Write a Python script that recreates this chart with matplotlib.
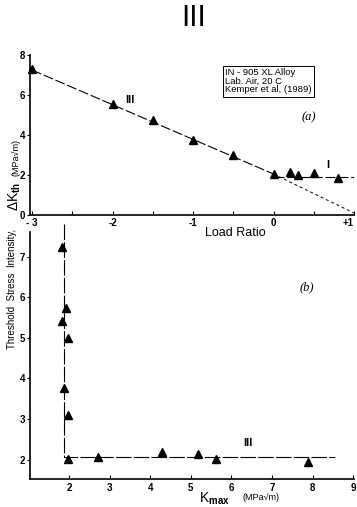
import matplotlib
matplotlib.use("Agg")
import matplotlib.pyplot as plt
from matplotlib.lines import Line2D

plt.rcParams['font.family'] = ['Liberation Sans', 'DejaVu Sans']
plt.rcParams['mathtext.fontset'] = 'custom'
plt.rcParams['mathtext.rm'] = 'Liberation Sans'
plt.rcParams['mathtext.bf'] = 'Liberation Sans:bold'

# (a) threshold vs load ratio
r_vals = [-3.0, -2.0, -1.5, -1.0, -0.5, 0.0, 0.2, 0.3, 0.5, 0.8]
dk_vals = [7.3, 5.53, 4.75, 3.75, 3.0, 2.05, 2.13, 2.0, 2.08, 1.85]
trend_r = [-3.0, 0.0]
trend_dk = [7.25, 2.05]
flat_r = [0.0, 1.0]
flat_dk = [1.92, 1.92]
lefm_r = [0.0, 1.0]
lefm_dk = [2.05, 0.1]
r_ticks = [-3, -2, -1, 0, 1]
r_ticklabels = ['- 3', '-2', '-1', '0', '+1']
r_minor = [-2.5, -1.5, -0.5, 0.5]

# (b) threshold vs Kmax
kmax_vals = [1.83, 1.93, 1.83, 1.98, 1.88, 1.98, 1.98, 2.71, 4.28, 5.18, 5.62, 7.88]
kth_vals = [7.23, 5.74, 5.42, 4.99, 3.76, 3.09, 2.02, 2.07, 2.2, 2.14, 2.02, 1.95]
corner_k = [1.88, 1.88, 8.55]
corner_dk = [7.8, 2.06, 2.06]

fig = plt.figure(figsize=(3.57, 5.07), dpi=100)
W, H = 357, 507


def px(x, y):
    return x / W, 1 - y / H


dash = (0, (9, 2.5))

# ---- bottom panel (drawn first so the top panel's labels sit above it) ----
ax2 = fig.add_axes([0.084, 0.0546, 0.9076, 0.5036])
ax2.patch.set_alpha(0)
ax2.plot(corner_k, corner_dk, color='black', lw=0.8, linestyle=(0, (14, 2)))
ax2.plot(kmax_vals, kth_vals, linestyle='none', marker='^', color='black', ms=5.5)
ax2.set_xlim(1.04, 9.02)
ax2.set_ylim(1.52, 7.8)
ax2.set_xticks(range(2, 10))
ax2.set_yticks(range(2, 8))
ax2.tick_params(axis='x', direction='in', length=3, width=0.8, pad=3)
ax2.tick_params(axis='y', direction='out', length=2.5, width=0.8, pad=1)
for lab in ax2.get_xticklabels() + ax2.get_yticklabels():
    lab.set_fontsize(7)
    lab.set_fontweight('bold')
for s in ['top', 'right']:
    ax2.spines[s].set_visible(False)
for s in ['left', 'bottom']:
    ax2.spines[s].set_linewidth(1.2)
ax2.spines['left'].set_bounds(1.52, 7.6)
ax2.text(6.41, 2.42, 'III', fontsize=8, fontweight='bold', ha='center', va='center')

# ---- top panel ----
ax1 = fig.add_axes([0.084, 0.5759, 0.9076, 0.3156])
ax1.patch.set_alpha(0)
ax1.plot(trend_r, trend_dk, color='black', lw=0.8, linestyle=dash)
ax1.plot(flat_r, flat_dk, color='black', lw=0.8, linestyle=dash)
ax1.plot(lefm_r, lefm_dk, color='black', lw=0.7, linestyle=(0, (3, 3)))
ax1.plot(r_vals, dk_vals, linestyle='none', marker='^', color='black', ms=5.5, clip_on=False)
ax1.set_xlim(-3.025, 1.0)
ax1.set_ylim(0, 8)
ax1.set_xticks(r_ticks)
ax1.set_xticklabels(r_ticklabels)
ax1.set_xticks(r_minor, minor=True)
ax1.set_yticks([0, 2, 4, 6, 8])
ax1.tick_params(axis='x', which='both', direction='in', length=3, width=0.8, pad=2)
ax1.tick_params(axis='y', direction='out', length=2.5, width=0.8, pad=1)
for lab in ax1.get_xticklabels() + ax1.get_yticklabels():
    lab.set_fontsize(7)
    lab.set_fontweight('bold')
ax1.get_xticklabels()[-1].set_horizontalalignment('right')
for s in ['top', 'right']:
    ax1.spines[s].set_visible(False)
for s in ['left', 'bottom']:
    ax1.spines[s].set_linewidth(1.2)
ax1.text(-1.78, 5.75, 'III', fontsize=8, fontweight='bold', ha='center', va='center')
ax1.text(0.68, 2.5, 'I', fontsize=8, fontweight='bold', ha='center', va='center')

# ---- figure texts ----
fig.text(*px(194, 18), 'III', fontsize=20, ha='center', va='center', family='DejaVu Sans')
fig.text(*px(235, 233), 'Load Ratio', fontsize=9, ha='center', va='center')
fig.text(*px(309, 117), '(a)', fontsize=9, style='italic', family='Liberation Serif', ha='center', va='center')
fig.text(*px(307, 287), '(b)', fontsize=9, style='italic', family='Liberation Serif', ha='center', va='center')

fig.text(*px(15, 196), r'$\Delta$K$_{\mathbf{th}}$', fontsize=10, rotation=90, ha='center', va='center')
fig.text(*px(16, 158), '(MPa√m)', fontsize=6.5, rotation=90, ha='center', va='center')
fig.text(*px(12, 289), 'Threshold  Stress  Intensity,', fontsize=7, rotation=90, ha='center', va='center')

fig.text(*px(214, 499), r'K$_{\mathbf{max}}$', fontsize=10, ha='center', va='center')
fig.text(*px(261, 497), '(MPa√m)', fontsize=6.5, ha='center', va='center')

# material box
fig.text(*px(225, 68), 'IN - 905 XL Alloy\nLab. Air, 20 C\nKemper et al, (1989)',
         fontsize=6.8, ha='left', va='top', linespacing=0.95,
         bbox=dict(boxstyle='square,pad=0.25', fc='white', ec='black', lw=0.7))
fig.add_artist(Line2D([225 / W, 292 / W], [1 - 76.5 / H, 1 - 76.5 / H], color='black', lw=0.5))

fig.savefig('out.png', dpi=100)
